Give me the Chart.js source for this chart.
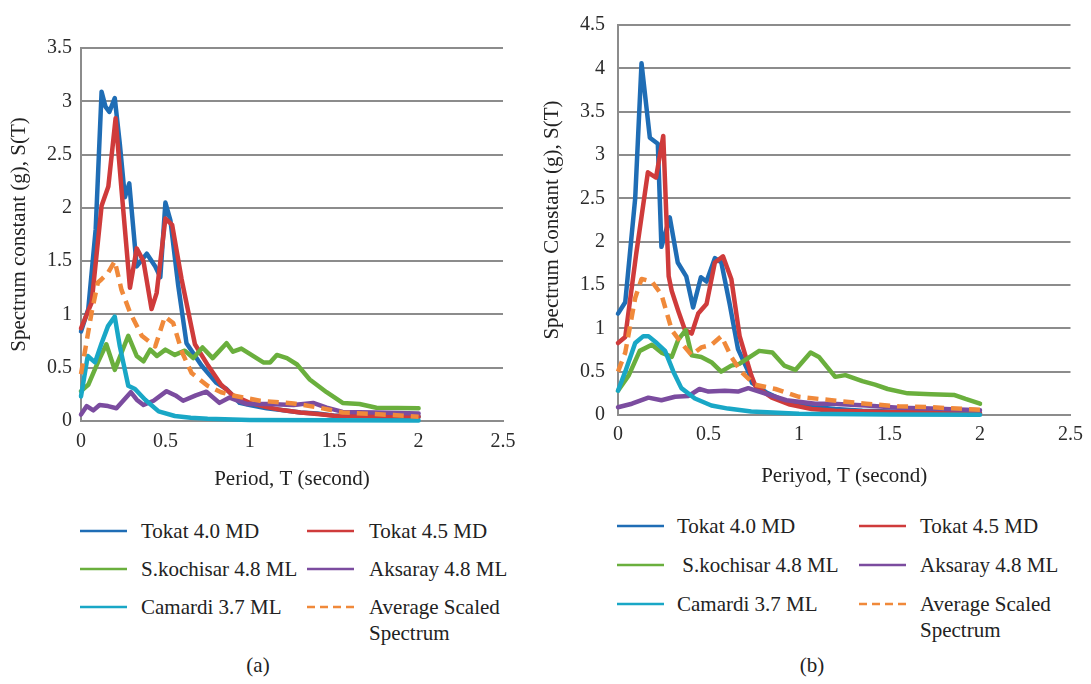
<!DOCTYPE html>
<html>
<head>
<meta charset="utf-8">
<script src="https://cdn.jsdelivr.net/npm/chart.js@4.4.1/dist/chart.umd.min.js"></script>
<style>
  html, body { margin: 0; padding: 0; background: #fff; }
  #wrap { position: relative; width: 1091px; height: 684px; overflow: hidden; background: #fff;
          font-family: 'Liberation Serif', 'DejaVu Serif', serif; color: #222; }
  canvas { position: absolute; }
  .lg { position: absolute; font-family: 'Liberation Serif', serif; font-size: 21px; line-height: 26px; white-space: pre; color: #222; }
  .cap { position: absolute; font-family: 'Liberation Serif', serif; font-size: 21px; line-height: 26px; color: #222; transform: translateX(-50%); }
  svg.sw { position: absolute; overflow: visible; }
</style>
</head>
<body>
<div id="wrap">
  <canvas id="cA" width="545" height="500" style="left:0;top:0;width:545px;height:500px"></canvas>
  <canvas id="cB" width="551" height="500" style="left:540px;top:0;width:551px;height:500px"></canvas>
</div>
<script>
// ---------- DATA: chart (a) ----------
const seriesLabelsA = ['Tokat 4.0 MD', 'Tokat 4.5 MD', 'S.kochisar 4.8 ML', 'Aksaray 4.8 ML', 'Camardi 3.7 ML', 'Average Scaled\nSpectrum'];
const seriesLabelsB = ['Tokat 4.0 MD', 'Tokat 4.5 MD', ' S.kochisar 4.8 ML', 'Aksaray 4.8 ML', 'Camardi 3.7 ML', 'Average Scaled\nSpectrum'];

// [period T (s), S(T) (g)]
const aTokat40 = [[0,0.84],[0.043,1.05],[0.087,1.8],[0.122,3.09],[0.145,2.95],[0.168,2.9],[0.2,3.03],[0.23,2.6],[0.26,2.1],[0.286,2.23],[0.33,1.45],[0.39,1.57],[0.44,1.45],[0.47,1.35],[0.5,2.05],[0.53,1.88],[0.576,1.27],[0.625,0.73],[0.714,0.52],[0.8,0.36],[0.862,0.3],[0.94,0.17],[1.0,0.15],[1.1,0.12],[1.2,0.1],[1.3,0.08],[1.4,0.07],[1.5,0.05],[1.6,0.05],[1.8,0.04],[2.0,0.04]];
const aTokat45 = [[0,0.87],[0.063,1.11],[0.122,2.02],[0.162,2.2],[0.205,2.84],[0.24,2.17],[0.29,1.25],[0.33,1.62],[0.37,1.5],[0.418,1.05],[0.448,1.2],[0.5,1.9],[0.54,1.84],[0.596,1.33],[0.675,0.72],[0.753,0.52],[0.83,0.34],[0.9,0.24],[1.0,0.17],[1.1,0.13],[1.2,0.1],[1.3,0.08],[1.4,0.065],[1.5,0.05],[1.7,0.045],[2.0,0.04]];
const aKochisar = [[0,0.28],[0.043,0.34],[0.1,0.55],[0.15,0.72],[0.2,0.48],[0.24,0.64],[0.28,0.8],[0.33,0.61],[0.37,0.56],[0.41,0.67],[0.45,0.61],[0.5,0.67],[0.556,0.62],[0.615,0.66],[0.665,0.59],[0.72,0.69],[0.78,0.59],[0.862,0.73],[0.9,0.65],[0.95,0.68],[1.0,0.63],[1.08,0.55],[1.12,0.55],[1.16,0.62],[1.22,0.59],[1.28,0.53],[1.355,0.39],[1.455,0.27],[1.55,0.17],[1.65,0.16],[1.75,0.125],[2.0,0.12]];
const aAksaray = [[0,0.06],[0.034,0.14],[0.073,0.1],[0.11,0.15],[0.16,0.14],[0.21,0.12],[0.295,0.27],[0.33,0.2],[0.37,0.15],[0.43,0.19],[0.507,0.28],[0.56,0.24],[0.605,0.19],[0.68,0.24],[0.743,0.275],[0.82,0.17],[0.88,0.22],[0.98,0.16],[1.1,0.16],[1.26,0.15],[1.375,0.17],[1.455,0.125],[1.55,0.085],[1.75,0.08],[2.0,0.07]];
const aCamardi = [[0,0.23],[0.04,0.61],[0.083,0.55],[0.122,0.73],[0.16,0.89],[0.2,0.98],[0.23,0.7],[0.28,0.33],[0.32,0.3],[0.38,0.2],[0.46,0.09],[0.556,0.047],[0.65,0.03],[0.75,0.02],[1.0,0.01],[1.5,0.006],[2.0,0.005]];
const aAverage = [[0,0.44],[0.063,1.02],[0.1,1.3],[0.122,1.33],[0.16,1.39],[0.2,1.5],[0.24,1.23],[0.29,1.02],[0.36,0.8],[0.44,0.7],[0.497,0.98],[0.546,0.92],[0.6,0.64],[0.655,0.45],[0.75,0.33],[0.83,0.27],[0.9,0.24],[1.06,0.19],[1.26,0.165],[1.41,0.125],[1.55,0.08],[1.85,0.056],[2.0,0.04]];

// ---------- DATA: chart (b) ----------
const bTokat40 = [[0,1.17],[0.04,1.3],[0.095,2.5],[0.13,4.06],[0.176,3.2],[0.22,3.13],[0.24,1.94],[0.286,2.28],[0.33,1.76],[0.377,1.6],[0.415,1.24],[0.458,1.59],[0.489,1.54],[0.535,1.81],[0.571,1.76],[0.617,1.28],[0.663,0.76],[0.72,0.5],[0.74,0.37],[0.82,0.26],[0.9,0.18],[1.0,0.12],[1.1,0.09],[1.2,0.07],[1.35,0.05],[1.5,0.04],[1.75,0.03],[2.0,0.02]];
const bTokat45 = [[0,0.83],[0.04,0.9],[0.1,1.85],[0.165,2.8],[0.21,2.74],[0.25,3.22],[0.28,1.6],[0.297,1.43],[0.333,1.2],[0.37,0.98],[0.407,0.94],[0.443,1.17],[0.489,1.28],[0.535,1.76],[0.58,1.83],[0.626,1.57],[0.672,0.91],[0.736,0.46],[0.76,0.33],[0.85,0.2],[0.95,0.12],[1.07,0.07],[1.2,0.05],[1.5,0.035],[2.0,0.02]];
const bKochisar = [[0,0.28],[0.06,0.46],[0.12,0.74],[0.187,0.81],[0.24,0.72],[0.297,0.67],[0.333,0.87],[0.374,0.98],[0.407,0.69],[0.46,0.67],[0.516,0.61],[0.57,0.5],[0.626,0.57],[0.67,0.59],[0.78,0.74],[0.853,0.72],[0.918,0.57],[0.98,0.52],[1.064,0.72],[1.11,0.67],[1.2,0.44],[1.256,0.46],[1.35,0.39],[1.42,0.35],[1.49,0.3],[1.6,0.25],[1.73,0.24],[1.86,0.23],[1.92,0.185],[2.0,0.13]];
const bAksaray = [[0,0.09],[0.077,0.13],[0.168,0.2],[0.24,0.17],[0.315,0.21],[0.39,0.22],[0.45,0.3],[0.5,0.27],[0.59,0.28],[0.663,0.27],[0.72,0.31],[0.78,0.27],[0.93,0.17],[1.09,0.13],[1.18,0.13],[1.37,0.11],[1.55,0.085],[1.73,0.075],[2.0,0.055]];
const bCamardi = [[0,0.28],[0.04,0.5],[0.095,0.83],[0.14,0.91],[0.168,0.91],[0.214,0.83],[0.26,0.74],[0.306,0.5],[0.35,0.31],[0.425,0.19],[0.516,0.11],[0.608,0.074],[0.736,0.04],[1.0,0.015],[1.5,0.005],[2.0,0.003]];
const bAverage = [[0,0.5],[0.04,0.72],[0.095,1.35],[0.13,1.57],[0.187,1.54],[0.24,1.39],[0.297,0.98],[0.35,0.83],[0.407,0.69],[0.46,0.78],[0.516,0.81],[0.571,0.91],[0.626,0.67],[0.68,0.5],[0.755,0.35],[0.87,0.3],[1.0,0.21],[1.18,0.17],[1.37,0.13],[1.55,0.1],[1.73,0.09],[2.0,0.06]];

// axis settings
const xMaxA = 2.5, yMaxA = 3.5, xMaxB = 2.5, yMaxB = 4.5, tickStep = 0.5;
const xTitleA = 'Period, T (second)', yTitleA = 'Spectrum constant (g), S(T)';
const xTitleB = 'Periyod, T (second)', yTitleB = 'Spectrum Constant (g), S(T)';

// ---------- styles ----------
const FONT = "'Liberation Serif', 'DejaVu Serif', serif";
const colors = ['#1f6db5', '#cf3b3b', '#6aaf3d', '#7b4c9f', '#19a7c6', '#f0893a'];
const orders = [6, 5, 4, 3, 2, 1];
const GRID = '#8c8c8c';

function toXY(arr) { return arr.map(p => ({ x: p[0], y: p[1] })); }
function fmtTick(v) { return String(Math.round(v * 100) / 100); }

function makeDatasets(seriesList, labels) {
  return seriesList.map((s, i) => ({
    label: labels[i],
    data: toXY(s),
    borderColor: colors[i],
    backgroundColor: colors[i],
    borderWidth: 4.5,
    borderDash: i === 5 ? [11, 7] : [],
    borderCapStyle: i === 5 ? 'butt' : 'round',
    borderJoinStyle: 'round',
    pointRadius: 0,
    tension: 0,
    fill: false,
    clip: false,
    order: orders[i]
  }));
}

function makeChart(id, datasets, opt) {
  return new Chart(document.getElementById(id), {
    type: 'line',
    data: { datasets },
    options: {
      responsive: false,
      animation: false,
      devicePixelRatio: 1,
      layout: { padding: { left: 0, right: opt.padRight, top: opt.padTop, bottom: 0 } },
      plugins: { legend: { display: false }, tooltip: { enabled: false } },
      scales: {
        x: {
          type: 'linear', min: 0, max: opt.xMax,
          afterFit: s => { s.height = opt.xAxisH; },
          grid: { display: false, drawTicks: false },
          border: { display: true, color: GRID, width: 2 },
          ticks: { stepSize: tickStep, padding: opt.xTickPad, maxRotation: 0, autoSkip: false,
                   callback: fmtTick, color: '#2b2b2b', font: { family: FONT, size: 20 } },
          title: { display: true, text: opt.xTitle, color: '#222',
                   font: { family: FONT, size: 21 }, padding: { top: 0, bottom: opt.xTitlePad } }
        },
        y: {
          type: 'linear', min: 0, max: opt.yMax,
          afterFit: s => { s.width = opt.yAxisW; },
          grid: { display: true, drawTicks: false, color: GRID, lineWidth: 2 },
          border: { display: true, color: GRID, width: 2 },
          ticks: { stepSize: tickStep, padding: opt.yTickPad, callback: fmtTick, color: '#2b2b2b',
                   font: { family: FONT, size: 20 } },
          title: { display: true, text: opt.yTitle, color: '#222',
                   font: { family: FONT, size: 21 }, padding: { top: opt.yTitlePad, bottom: 0 } }
        }
      }
    }
  });
}

makeChart('cA', makeDatasets([aTokat40, aTokat45, aKochisar, aAksaray, aCamardi, aAverage], seriesLabelsA), {
  padRight: 42, padTop: 48, xAxisH: 79, yAxisW: 81, xMax: xMaxA, yMax: yMaxA,
  xTickPad: 9, yTickPad: 9, xTitle: xTitleA, yTitle: yTitleA, xTitlePad: 8, yTitlePad: 7
});
makeChart('cB', makeDatasets([bTokat40, bTokat45, bKochisar, bAksaray, bCamardi, bAverage], seriesLabelsB), {
  padRight: 18, padTop: 10, xAxisH: 85, yAxisW: 78, xMax: xMaxB, yMax: yMaxB,
  xTickPad: 8, yTickPad: 13, xTitle: xTitleB, yTitle: yTitleB, xTitlePad: 11, yTitlePad: 0
});

// ---------- HTML legends + captions ----------
const wrap = document.getElementById('wrap');
function addLegend(labels, colX, rowY) {
  labels.forEach((lab, i) => {
    const col = i % 2, row = Math.floor(i / 2);
    const sx = colX[col][0], tx = colX[col][1], y = rowY[row];
    const svgNS = 'http://www.w3.org/2000/svg';
    const svg = document.createElementNS(svgNS, 'svg');
    svg.setAttribute('class', 'sw');
    svg.setAttribute('width', '48'); svg.setAttribute('height', '6');
    svg.style.left = sx + 'px'; svg.style.top = (y - 3) + 'px';
    const ln = document.createElementNS(svgNS, 'line');
    ln.setAttribute('x1', '0'); ln.setAttribute('x2', '47');
    ln.setAttribute('y1', '3'); ln.setAttribute('y2', '3');
    ln.setAttribute('stroke', colors[i]); ln.setAttribute('stroke-width', '2.5');
    if (i === 5) ln.setAttribute('stroke-dasharray', '8 5');
    svg.appendChild(ln);
    wrap.appendChild(svg);
    const d = document.createElement('div');
    d.className = 'lg';
    d.textContent = lab;
    d.style.left = tx + 'px'; d.style.top = (y - 13) + 'px';
    wrap.appendChild(d);
  });
}
addLegend(seriesLabelsA, [[80, 141], [307, 369]], [531, 569, 607]);
addLegend(seriesLabelsB, [[617, 677], [859, 920]], [526, 565, 604]);

function addCap(text, cx, cy) {
  const d = document.createElement('div');
  d.className = 'cap'; d.textContent = text;
  d.style.left = cx + 'px'; d.style.top = (cy - 13) + 'px';
  wrap.appendChild(d);
}
addCap('(a)', 258, 665);
addCap('(b)', 812, 665);
</script>
</body>
</html>
